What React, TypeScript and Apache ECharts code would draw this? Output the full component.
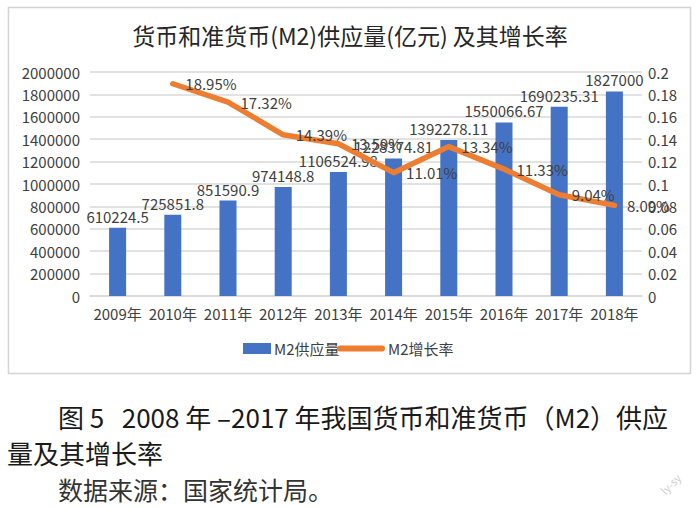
import React, { useEffect, useRef } from "react";
import * as echarts from "echarts";

const years = ["2009年", "2010年", "2011年", "2012年", "2013年", "2014年", "2015年", "2016年", "2017年", "2018年"];
const m2Supply = [610224.5, 725851.8, 851590.9, 974148.8, 1106524.98, 1228374.81, 1392278.11, 1550066.67, 1690235.31, 1827000];
const m2GrowthPct: (number | null)[] = [null, 18.95, 17.32, 14.39, 13.59, 11.01, 13.34, 11.33, 9.04, 8.09];

const chartTitle = "货币和准货币(M2)供应量(亿元) 及其增长率";
const captionLine1 = "图 5   2008 年 –2017 年我国货币和准货币（M2）供应";
const captionLine2 = "量及其增长率";
const sourceLine = "数据来源：国家统计局。";

const FONT = "'Noto Sans CJK SC', 'Noto Sans', sans-serif";
const BLUE = "#4472C4";
const ORANGE = "#ED7D31";
const TEXT = "#404040";
const GRID = "#d9d9d9";

export default function App() {
  const ref = useRef<HTMLDivElement>(null);
  useEffect(() => {
    if (!ref.current) return;
    const chart = echarts.init(ref.current, null, { renderer: "svg" });
    const growth = m2GrowthPct.map((v) => (v == null ? "-" : v / 100));
    chart.setOption({
      animation: false,
      backgroundColor: "#ffffff",
      textStyle: { fontFamily: FONT },
      title: {
        text: chartTitle,
        left: "center",
        top: 22,
        padding: 0,
        textStyle: { fontFamily: FONT, fontSize: 23, fontWeight: "normal", color: "#262626", lineHeight: 25 },
      },
      legend: [
        {
          data: ["M2供应量"],
          left: 243,
          top: 341,
          padding: 0,
          itemWidth: 28,
          itemHeight: 11,
          itemGap: 0,
          icon: "rect",
          textStyle: { fontFamily: FONT, fontSize: 15, color: TEXT, padding: [0, 0, 0, -2] },
        },
        {
          data: ["M2增长率"],
          left: 337,
          top: 341,
          padding: 0,
          itemWidth: 48,
          itemHeight: 6,
          icon: "path://M3,0 L45,0 A3,3 0 0 1 45,6 L3,6 A3,3 0 0 1 3,0 Z",
          textStyle: { fontFamily: FONT, fontSize: 15, color: TEXT, padding: [0, 0, 0, -2] },
        },
      ],
      grid: { left: 90, right: 58, top: 72, bottom: 211 },
      xAxis: {
        type: "category",
        data: years,
        axisLine: { show: true, lineStyle: { color: GRID, width: 1.5 } },
        axisTick: { show: false },
        axisLabel: { color: TEXT, fontSize: 15, fontFamily: FONT, margin: 10, interval: 0 },
      },
      yAxis: [
        {
          type: "value",
          min: 0,
          max: 2000000,
          interval: 200000,
          axisLine: { show: false },
          axisTick: { show: false },
          splitLine: { lineStyle: { color: GRID, width: 1.5 } },
          axisLabel: { color: TEXT, fontSize: 15, fontFamily: FONT, margin: 10, formatter: (v: number) => String(v) },
        },
        {
          type: "value",
          min: 0,
          max: 0.2,
          interval: 0.02,
          axisLine: { show: false },
          axisTick: { show: false },
          splitLine: { show: false },
          axisLabel: {
            color: TEXT,
            fontSize: 15,
            fontFamily: FONT,
            margin: 6,
            formatter: (v: number) => String(+v.toFixed(4)),
          },
        },
      ],
      series: [
        {
          name: "M2供应量",
          type: "bar",
          data: m2Supply,
          barWidth: 17,
          itemStyle: { color: BLUE },
          label: {
            show: true,
            position: "top",
            distance: 4,
            color: TEXT,
            fontSize: 15,
            fontFamily: FONT,
            formatter: (p: any) => String(p.value),
          },
        },
        {
          name: "M2增长率",
          type: "line",
          yAxisIndex: 1,
          data: growth,
          symbol: "circle",
          symbolSize: 1,
          showSymbol: true,
          itemStyle: { color: ORANGE },
          lineStyle: { color: ORANGE, width: 5.5, cap: "round", join: "round" },
          label: {
            show: true,
            position: "right",
            distance: 12,
            color: TEXT,
            fontSize: 15,
            fontFamily: FONT,
            formatter: (p: any) => (p.value * 100).toFixed(2) + "%",
          },
          z: 3,
        },
      ],
      graphic: [
        {
          type: "rect",
          shape: { x: 8.5, y: 7.5, width: 682, height: 366 },
          style: { fill: "none", stroke: "#d4d4d4", lineWidth: 1.5 },
          silent: true,
        },
        {
          type: "text",
          x: 58,
          y: 416,
          style: { text: captionLine1, fontFamily: FONT, fontSize: 26, fill: "#1a1a1a", textVerticalAlign: "middle" },
        },
        {
          type: "text",
          x: 7,
          y: 452,
          style: { text: captionLine2, fontFamily: FONT, fontSize: 26, fill: "#1a1a1a", textVerticalAlign: "middle" },
        },
        {
          type: "text",
          x: 58,
          y: 489,
          style: { text: sourceLine, fontFamily: FONT, fontSize: 25, fill: "#333333", textVerticalAlign: "middle" },
        },
        {
          type: "text",
          x: 662,
          y: 492,
          rotation: Math.PI / 4,
          style: { text: "ly-sy", fontFamily: FONT, fontSize: 11, fill: "#cfcfcf", textVerticalAlign: "middle" },
        },
      ],
    });
    return () => chart.dispose();
  }, []);
  return <div ref={ref} style={{ position: "absolute", left: 0, top: 0, width: 700, height: 507 }} />;
}
